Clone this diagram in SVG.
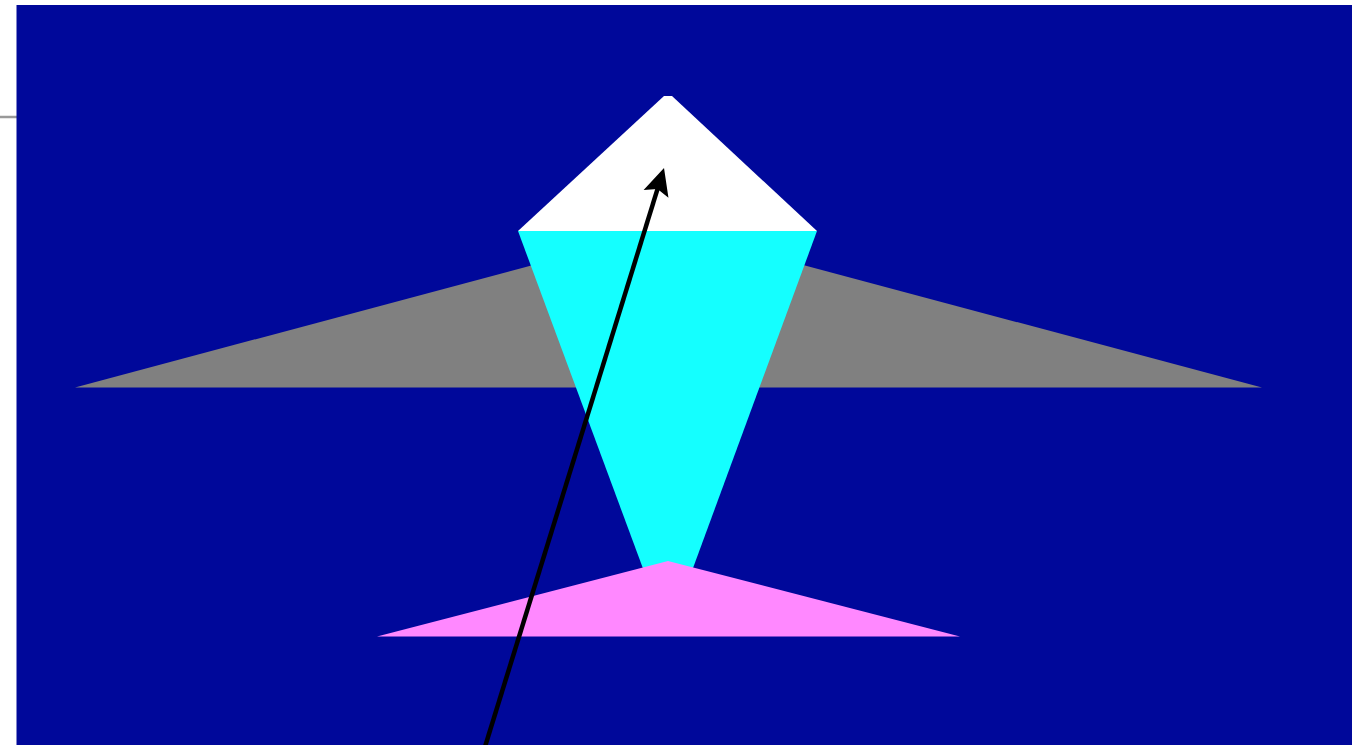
<svg xmlns="http://www.w3.org/2000/svg" width="1353" height="745" viewBox="0 0 1353 745">
  <style>
    .bg { fill: #00089a; }
    .shape { stroke: none; }
    .conn { stroke: #000; stroke-width: 4.5; fill: none; }
  </style>
  <defs>
    <marker id="arrow" markerUnits="userSpaceOnUse" markerWidth="30" markerHeight="28" refX="7" refY="14" orient="auto" overflow="visible">
      <path d="M0,1 L27,14 L0,27 L5,14 Z" fill="#000"/>
    </marker>
  </defs>
  <rect x="0" y="0" width="1353" height="745" fill="#ffffff"/>
  <line x1="0" y1="117" x2="17" y2="117" stroke="#999999" stroke-width="2.5"/>
  <rect class="bg" x="16.5" y="5" width="1335.5" height="740"/>
  <g id="gray-triangle">
    <polygon class="shape" fill="#808080" points="75,387.5 668,229 1262,387.5"/>
  </g>
  <g id="cyan-triangle">
    <polygon class="shape" fill="#14ffff" points="518,231 817,231 668,636"/>
  </g>
  <g id="white-triangle">
    <polygon class="shape" fill="#ffffff" points="518,231 664,96 672,96 817,231"/>
  </g>
  <g id="pink-triangle">
    <polygon class="shape" fill="#ff88ff" points="377,636.5 668,561 960,636.5"/>
  </g>
  <g id="connectors">
    <line class="conn" x1="484" y1="750" x2="658.1" y2="187.1" marker-end="url(#arrow)"/>
  </g>
</svg>
